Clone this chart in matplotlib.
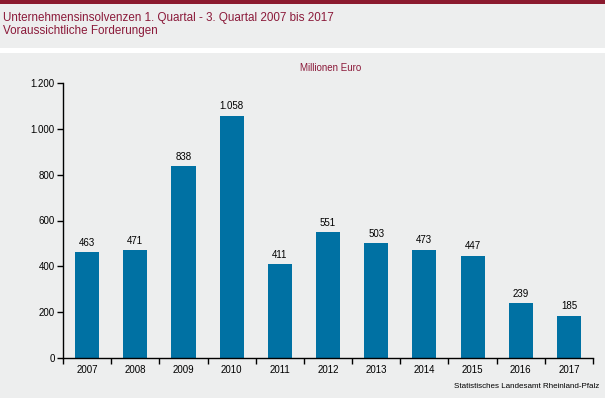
import matplotlib
matplotlib.use("Agg")
import matplotlib.pyplot as plt
from matplotlib.patches import Rectangle
from matplotlib.ticker import FuncFormatter, FixedLocator

years = ["2007", "2008", "2009", "2010", "2011", "2012", "2013", "2014", "2015", "2016", "2017"]
values = [463, 471, 838, 1058, 411, 551, 503, 473, 447, 239, 185]
yticks = [0, 200, 400, 600, 800, 1000, 1200]

title = "Unternehmensinsolvenzen 1. Quartal - 3. Quartal 2007 bis 2017"
subtitle = "Voraussichtliche Forderungen"
unit = "Millionen Euro"
source = "Statistisches Landesamt Rheinland-Pfalz"

plt.rcParams['font.family'] = ['Liberation Sans', 'DejaVu Sans']

W, H = 605, 398
bg = "#EDEEEE"
red = "#8B1A3A"
bar_c = "#0071A3"

fig = plt.figure(figsize=(W/100, H/100), dpi=100)
fig.patch.set_facecolor("white")

# header background
fig.add_artist(Rectangle((0, 1 - 48/H), 1, 48/H, transform=fig.transFigure, facecolor=bg, edgecolor="none", zorder=0))
fig.add_artist(Rectangle((0, 1 - 4/H), 1, 4/H, transform=fig.transFigure, facecolor="#8B1A2E", edgecolor="none", zorder=1))
# chart panel background
fig.add_artist(Rectangle((0, 0), 1, 1 - 53/H, transform=fig.transFigure, facecolor=bg, edgecolor="none", zorder=0))

fig.text(3/W, 1 - 18/H, title, color=red, fontsize=8.4, va="center", ha="left")
fig.text(3/W, 1 - 31/H, subtitle, color=red, fontsize=8.4, va="center", ha="left")
fig.text(331/W, 1 - 68/H, unit, color=red, fontsize=7, va="center", ha="center")
fig.text(599/W, 1 - 387/H, source, color="black", fontsize=5.8, va="center", ha="right")

left, right = 63/W, 593/W
bottom, top = (H - 358)/H, (H - 83)/H
ax = fig.add_axes([left, bottom, right - left, top - bottom])
ax.set_facecolor("none")

x = list(range(len(years)))
bars = ax.bar(x, values, width=0.5, color=bar_c, zorder=2)
for xi, v in zip(x, values):
    ax.text(xi, v + 18, f"{v:,}".replace(",", "."), ha="center", va="bottom", fontsize=7)

ax.set_xlim(-0.5, len(years) - 0.5)
ax.set_ylim(0, 1200)
ax.set_yticks(yticks)
ax.yaxis.set_major_formatter(FuncFormatter(lambda v, p: f"{int(v):,}".replace(",", ".")))
ax.set_xticks(x)
ax.set_xticklabels(years)
ax.xaxis.set_minor_locator(FixedLocator([i - 0.5 for i in range(len(years) + 1)]))
ax.tick_params(axis="x", which="major", length=0, labelsize=7, pad=5)
ax.tick_params(axis="x", which="minor", length=4, width=1, direction="out")
ax.tick_params(axis="y", length=4, width=1, direction="out", labelsize=7, pad=2)
for s in ["top", "right"]:
    ax.spines[s].set_visible(False)
ax.spines["left"].set_linewidth(1)
ax.spines["bottom"].set_linewidth(1)

fig.savefig("out.png", dpi=100, facecolor=fig.get_facecolor())
